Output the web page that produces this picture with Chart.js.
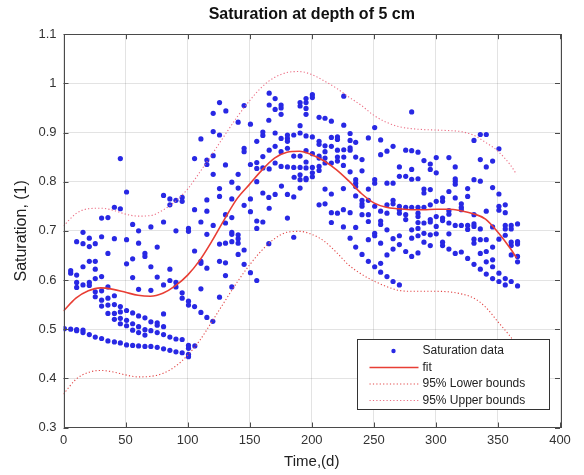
<!DOCTYPE html>
<html><head><meta charset="utf-8">
<script src="https://cdn.jsdelivr.net/npm/chart.js@4"></script>
<style>html,body{margin:0;padding:0;background:#fff}#wrap{width:584px;height:475px}</style>
</head><body><div id="wrap"><canvas id="c" width="584" height="475"></canvas></div>
<script>
const chartTitle = 'Saturation at depth of 5 cm';
const xTitle = 'Time,(d)';
const yTitle = 'Saturation, (1)';
const xTicks = [0, 50, 100, 150, 200, 250, 300, 350, 400];
const yTicks = [0.3, 0.4, 0.5, 0.6, 0.7, 0.8, 0.9, 1, 1.1];
const legendLabels = ['Saturation data', 'fit', '95% Lower bounds', '95% Upper bounds'];

// Measured saturation points [day, saturation]
const satPoints = [
 [45.8,0.847],[50.8,0.779],[41,0.748],[45.8,0.745],[30.7,0.726],[35.8,0.727],[80.6,0.772],[85.7,0.765],[85.7,0.753],
 [90.6,0.762],[95.6,0.768],[95.6,0.760],[55.7,0.713],[60.5,0.700],[70.4,0.708],[80.6,0.718],[90.6,0.700],[100.7,0.705],
 [100.7,0.699],[15.7,0.697],[10.6,0.678],[15.7,0.674],[20.8,0.685],[20.8,0.668],[25.6,0.674],[30.7,0.688],[41,0.684],
 [50.8,0.682],[60.5,0.675],[75.5,0.667],[35.8,0.654],[55.7,0.643],[65.6,0.654],[65.6,0.648],[50.8,0.633],[15.7,0.627],
 [20.8,0.638],[25.6,0.638],[25.6,0.622],[70.4,0.627],[5.8,0.619],[5.8,0.614],[10.6,0.610],[25.6,0.603],[30.7,0.607],
 [55.7,0.605],[85.7,0.622],[75.5,0.606],[85.7,0.599],[90.6,0.595],[10.6,0.595],[10.6,0.585],[15.7,0.590],[20.8,0.595],
 [20.8,0.589],[35.8,0.586],[60.5,0.581],[70.4,0.579],[80.6,0.590],[90.6,0.586],[95.6,0.574],[95.6,0.563],[100.7,0.557],
 [100.7,0.549],[25.6,0.576],[25.6,0.566],[30.7,0.578],[30.7,0.559],[35.8,0.563],[41,0.568],[41,0.550],[45.8,0.546],
 [30.7,0.547],[35.8,0.549],[35.8,0.532],[41,0.532],[45.8,0.535],[50.8,0.538],[55.7,0.533],[60.5,0.527],[65.6,0.523],
 [70.4,0.515],[75.5,0.513],[80.6,0.531],[41,0.520],[45.8,0.522],[50.8,0.518],[45.8,0.511],[50.8,0.507],[55.7,0.511],
 [60.5,0.505],[65.6,0.499],[70.4,0.497],[75.5,0.508],[80.6,0.505],[55.7,0.498],[60.5,0.493],[65.6,0.488],[75.5,0.493],
 [80.6,0.489],[85.7,0.484],[90.6,0.480],[95.6,0.479],[100.7,0.467],[100.7,0.461],[0.7,0.501],[5.8,0.500],[10.6,0.499],
 [10.6,0.497],[15.7,0.498],[15.7,0.493],[20.8,0.489],[25.6,0.484],[30.7,0.481],[35.8,0.476],[41,0.474],[45.8,0.472],
 [50.8,0.468],[55.7,0.467],[60.5,0.466],[65.6,0.465],[70.4,0.465],[75.5,0.463],[80.6,0.460],[85.7,0.457],[90.6,0.454],
 [95.6,0.452],[100.7,0.449],[100.7,0.444],[105.8,0.466],[105.6,0.546],[110.7,0.534],[115.5,0.524],[120.3,0.516],
 [165.7,0.980],[170.5,0.969],[165.7,0.956],[175.3,0.956],[175.3,0.950],[170.5,0.947],[175.3,0.937],[125.7,0.961],
 [120.6,0.939],[130.8,0.944],[145.5,0.955],[140.7,0.921],[150.6,0.917],[120.6,0.902],[125.7,0.895],[165.4,0.925],
 [160.6,0.901],[160.6,0.894],[170.5,0.899],[175.3,0.888],[180.4,0.895],[180.4,0.888],[180.4,0.882],[185.5,0.895],
 [110.7,0.887],[155.7,0.882],[145.5,0.868],[145.5,0.861],[150.6,0.835],[155.7,0.839],[160.6,0.851],[165.7,0.864],
 [170.5,0.872],[175.3,0.861],[180.4,0.868],[185.5,0.852],[155.7,0.827],[160.6,0.828],[165.7,0.826],[170.5,0.838],
 [175.3,0.831],[180.4,0.830],[185.5,0.829],[105.6,0.847],[115.5,0.844],[115.5,0.835],[120.6,0.853],[130.5,0.834],
 [140.7,0.815],[135.6,0.799],[120.6,0.815],[185.8,0.809],[155.7,0.800],[175.6,0.791],[160.6,0.777],[165.4,0.768],
 [170.5,0.774],[180.4,0.774],[185.5,0.769],[125.7,0.786],[125.7,0.770],[140.7,0.787],[135.6,0.765],[115.5,0.763],
 [150.6,0.765],[145.5,0.752],[165.7,0.746],[105.6,0.743],[115.5,0.740],[130.5,0.733],[135.6,0.727],[130.5,0.716],
 [150.6,0.739],[180.4,0.726],[110.7,0.718],[120.6,0.711],[155.7,0.720],[160.6,0.718],[155.7,0.705],[115.5,0.693],
 [135.6,0.697],[135.6,0.693],[140.7,0.692],[140.7,0.684],[140.7,0.675],[135.6,0.678],[185.5,0.687],[125.7,0.673],
 [130.5,0.675],[165.4,0.674],[105.6,0.659],[145.5,0.661],[140.7,0.652],[110.7,0.638],[110.7,0.634],[115.5,0.624],
 [125.7,0.638],[130.5,0.635],[145.5,0.632],[130.5,0.609],[150.6,0.615],[155.7,0.599],[135.6,0.586],[110.7,0.582],
 [125.7,0.565],[190.6,0.961],[190.6,0.954],[190.6,0.914],[190.6,0.899],[190.6,0.852],[190.6,0.829],[190.6,0.814],
 [190.6,0.804],[190.6,0.787],
 [200.5,0.977],[200.5,0.971],[195.4,0.969],[195.4,0.961],[195.4,0.949],[195.4,0.937],[225.8,0.974],[205.9,0.931],
 [210.7,0.929],[215.8,0.923],[225.8,0.915],[230.9,0.898],[230.9,0.884],[235.4,0.880],[225.8,0.865],[250.7,0.910],
 [245.6,0.889],[255.5,0.885],[195.4,0.893],[200.5,0.891],[205.9,0.882],[205.9,0.876],[210.7,0.873],[215.8,0.890],
 [220.7,0.891],[220.7,0.886],[230.9,0.869],[230.9,0.864],[215.8,0.872],[220.7,0.864],[195.4,0.863],[200.5,0.857],
 [205.9,0.852],[205.9,0.848],[210.7,0.861],[210.7,0.848],[220.7,0.850],[220.7,0.842],[225.8,0.850],[235.4,0.850],
 [215.8,0.838],[210.7,0.838],[240.5,0.845],[255.5,0.855],[260.6,0.862],[265.5,0.872],[275.7,0.864],[280.5,0.863],
 [285.6,0.860],[270.6,0.830],[280.5,0.825],[195.4,0.840],[195.4,0.828],[200.5,0.829],[205.9,0.831],[205.9,0.823],
 [200.5,0.818],[200.5,0.810],[195.4,0.807],[195.4,0.804],[225.5,0.833],[230.9,0.820],[240.5,0.822],[270.6,0.811],
 [275.7,0.811],[280.5,0.805],[285.6,0.806],[235.4,0.804],[235.4,0.797],[235.4,0.790],[225.5,0.786],[250.7,0.804],
 [250.7,0.797],[245.6,0.785],[260.6,0.797],[265.5,0.797],[210.7,0.785],[215.8,0.775],[235.4,0.771],[240.5,0.762],
 [240.5,0.755],[240.5,0.750],[245.6,0.762],[250.7,0.750],[260.6,0.753],[265.5,0.762],[265.5,0.755],[270.6,0.750],
 [270.6,0.743],[270.6,0.736],[275.7,0.748],[280.5,0.748],[285.6,0.748],[205.9,0.753],[210.7,0.755],[225.5,0.743],
 [220.7,0.736],[215.8,0.737],[215.8,0.717],[230.9,0.737],[240.5,0.733],[245.6,0.733],[245.6,0.719],[255.5,0.740],
 [260.6,0.736],[255.5,0.720],[255.5,0.713],[275.7,0.733],[275.7,0.723],[285.6,0.736],[285.6,0.729],[285.6,0.717],
 [225.5,0.708],[235.4,0.707],[250.7,0.695],[250.7,0.690],[260.6,0.702],[265.5,0.684],[270.6,0.690],[270.6,0.672],
 [280.5,0.702],[280.5,0.685],[285.6,0.705],[285.6,0.690],[230.9,0.685],[235.4,0.667],[245.6,0.682],[255.5,0.675],
 [260.6,0.651],[255.5,0.634],[240.5,0.652],[245.6,0.638],[250.7,0.627],[255.5,0.616],[265.5,0.663],[275.7,0.658],
 [280.5,0.648],[285.6,0.655],[260.6,0.607],[265.5,0.597],[270.6,0.590],[280.5,0.942],
 [335.8,0.896],[340.6,0.896],[330.7,0.884],[350.8,0.867],[290.4,0.843],[295.5,0.836],[300.3,0.849],[310.5,0.849],
 [295.5,0.825],[300.3,0.818],[315.6,0.830],[335.8,0.845],[340.6,0.830],[345.7,0.842],[315.6,0.806],[315.6,0.801],
 [315.6,0.795],[330.7,0.804],[335.8,0.801],[290.4,0.785],[290.4,0.777],[295.5,0.784],[310.5,0.780],[315.6,0.767],
 [325.6,0.786],[325.6,0.770],[345.7,0.788],[350.8,0.775],[290.4,0.748],[295.5,0.753],[300.3,0.760],[305.4,0.767],
 [305.4,0.760],[320.5,0.755],[320.5,0.748],[320.5,0.743],[310.5,0.741],[310.5,0.734],[330.7,0.733],[340.6,0.740],
 [350.8,0.750],[350.8,0.742],[355.9,0.753],[355.9,0.737],[290.4,0.716],[295.5,0.723],[295.5,0.718],[300.3,0.729],
 [300.3,0.709],[305.4,0.726],[305.4,0.721],[310.5,0.716],[315.6,0.711],[320.5,0.711],[325.6,0.711],[325.6,0.703],
 [330.7,0.714],[330.7,0.709],[335.8,0.704],[345.7,0.708],[355.9,0.711],[360.7,0.711],[365.8,0.714],[355.9,0.704],
 [360.7,0.704],[290.4,0.695],[295.5,0.692],[300.3,0.694],[310.5,0.694],[290.4,0.677],[295.5,0.670],[305.4,0.677],
 [305.4,0.670],[330.7,0.683],[330.7,0.675],[335.8,0.682],[340.6,0.682],[350.8,0.683],[355.9,0.691],[360.7,0.677],
 [365.8,0.678],[365.8,0.673],[360.7,0.670],[310.5,0.663],[315.6,0.654],[320.5,0.657],[325.6,0.644],[330.7,0.632],
 [335.8,0.654],[340.6,0.658],[335.8,0.622],[345.7,0.667],[345.7,0.641],[340.6,0.637],[345.7,0.627],[360.7,0.651],
 [365.8,0.648],[365.8,0.637],[340.6,0.612],[345.7,0.603],[350.8,0.614],[350.8,0.597],[355.9,0.603],[355.9,0.590],
 [360.7,0.597],[365.8,0.588]
];

const fitDays    = [0,10,20,30,40,50,60,70,80,90,100,110,120,130,140,150,160,170,180,190,200,210,220,230,240,250,260,270,280,290,300,310,320,330,340,350,360,365];
const fitValues  = [0.537,0.563,0.578,0.584,0.581,0.575,0.569,0.567,0.573,0.588,0.610,0.641,0.681,0.725,0.766,0.795,0.824,0.848,0.860,0.862,0.855,0.842,0.824,0.801,0.776,0.757,0.748,0.745,0.743,0.743,0.744,0.744,0.741,0.735,0.724,0.697,0.664,0.645];
const lowerBound = [0.368,0.398,0.412,0.416,0.413,0.407,0.403,0.404,0.410,0.424,0.447,0.478,0.517,0.557,0.596,0.631,0.661,0.684,0.697,0.699,0.693,0.679,0.656,0.630,0.612,0.598,0.587,0.579,0.577,0.577,0.577,0.576,0.572,0.564,0.545,0.515,0.485,0.468];
const upperBound = [0.710,0.735,0.745,0.746,0.742,0.734,0.730,0.731,0.742,0.760,0.785,0.820,0.857,0.895,0.932,0.965,0.993,1.012,1.022,1.024,1.018,1.005,0.990,0.972,0.955,0.935,0.921,0.912,0.908,0.906,0.905,0.904,0.902,0.895,0.880,0.862,0.834,0.815];

const toXY = (ys) => fitDays.map((d, i) => ({x: d, y: ys[i]}));
const FONT = "'Liberation Sans', Arial, Helvetica, sans-serif";
const dotColor = 'rgb(40,40,228)';
const fitColor = 'rgb(232,62,52)';
const lowColor = 'rgb(226,72,72)';
const upColor = 'rgb(236,110,132)';
const gridColor = 'rgba(0,0,0,0.11)';
const axisColor = '#4a4a4a';

const matlabBox = {
  id: 'matlabBox',
  afterDatasetsDraw(chart) {
    const {ctx, chartArea: ca, scales} = chart;
    ctx.save();
    ctx.strokeStyle = axisColor; ctx.lineWidth = 1;
    ctx.beginPath();
    xTicks.forEach(v => { const x = Math.round(scales.x.getPixelForValue(v)) + 0.5;
      ctx.moveTo(x, ca.bottom); ctx.lineTo(x, ca.bottom - 5);
      ctx.moveTo(x, ca.top); ctx.lineTo(x, ca.top + 5); });
    yTicks.forEach(v => { const y = Math.round(scales.y.getPixelForValue(v)) + 0.5;
      ctx.moveTo(ca.left, y); ctx.lineTo(ca.left + 5, y);
      ctx.moveTo(ca.right, y); ctx.lineTo(ca.right - 5, y); });
    ctx.stroke();
    ctx.strokeRect(Math.round(ca.left)+0.5, Math.round(ca.top)+0.5, Math.round(ca.right-ca.left), Math.round(ca.bottom-ca.top));

    // legend box inside the plot (lower right)
    const w = 192, h = 70;
    const x0 = Math.round(ca.right - 203) + 0.5, y0 = Math.round(ca.bottom - 88.5) + 0.5;
    ctx.fillStyle = '#fff';
    ctx.fillRect(x0, y0, w, h);
    ctx.strokeStyle = '#333'; ctx.lineWidth = 1;
    ctx.strokeRect(x0, y0, w, h);
    ctx.font = '12px ' + FONT; ctx.textBaseline = 'middle'; ctx.textAlign = 'left';
    const ds = chart.data.datasets;
    for (let i = 0; i < 4; i++) {
      const y = y0 + 11.5 + i * 16.5;
      const d = ds[i];
      if (i === 0) {
        ctx.fillStyle = dotColor; ctx.beginPath(); ctx.arc(x0 + 36, y, 2.2, 0, Math.PI * 2); ctx.fill();
      } else {
        ctx.strokeStyle = d.borderColor; ctx.lineWidth = d.borderWidth;
        ctx.setLineDash(d.borderDash || []);
        ctx.beginPath(); ctx.moveTo(x0 + 12, y); ctx.lineTo(x0 + 61, y); ctx.stroke();
        ctx.setLineDash([]);
      }
      ctx.fillStyle = '#222';
      ctx.fillText(legendLabels[i], x0 + 65, y);
    }
    ctx.restore();
  }
};

new Chart(document.getElementById('c'), {
  type: 'scatter',
  data: {
    datasets: [
      { label: legendLabels[0], data: satPoints.map(p => ({x: p[0], y: p[1]})),
        pointRadius: 2.6, pointBackgroundColor: dotColor, pointBorderWidth: 0, order: 4 },
      { type: 'line', label: legendLabels[1], data: toXY(fitValues), borderColor: fitColor, borderWidth: 1.6,
        pointRadius: 0, cubicInterpolationMode: 'monotone', fill: false, order: 1 },
      { type: 'line', label: legendLabels[2], data: toXY(lowerBound), borderColor: lowColor, borderWidth: 1.1,
        borderDash: [1.2, 2.2], pointRadius: 0, cubicInterpolationMode: 'monotone', fill: false, order: 2 },
      { type: 'line', label: legendLabels[3], data: toXY(upperBound), borderColor: upColor, borderWidth: 1.1,
        borderDash: [1.2, 2.2], pointRadius: 0, cubicInterpolationMode: 'monotone', fill: false, order: 3 }
    ]
  },
  options: {
    responsive: false, animation: false, devicePixelRatio: 1,
    layout: { padding: { left: 0, right: 24, top: 0, bottom: 0 } },
    plugins: {
      legend: { display: false },
      tooltip: { enabled: false },
      title: { display: true, text: chartTitle, fullSize: false, color: '#111',
        font: { family: FONT, size: 16, weight: 'bold' }, padding: { top: 5, bottom: 10 } }
    },
    scales: {
      x: {
        type: 'linear', min: 0, max: 400,
        afterBuildTicks: s => { s.ticks = xTicks.map(v => ({value: v})); },
        afterFit: s => { s.height = 47.5; },
        ticks: { color: '#333', font: { family: FONT, size: 13 }, padding: 5, maxRotation: 0, autoSkip: false,
          callback: v => String(v) },
        grid: { color: gridColor, drawTicks: false },
        border: { display: false },
        title: { display: true, text: xTitle, color: '#222', font: { family: FONT, size: 15 }, padding: { top: 0, bottom: 4 } }
      },
      y: {
        type: 'linear', min: 0.3, max: 1.1,
        afterBuildTicks: s => { s.ticks = yTicks.map(v => ({value: v})); },
        afterFit: s => { s.width = 63.5; },
        ticks: { color: '#333', font: { family: FONT, size: 13 }, padding: 7, autoSkip: false,
          callback: v => String(Math.round(v * 10) / 10) },
        grid: { color: gridColor, drawTicks: false },
        border: { display: false },
        title: { display: true, text: yTitle, color: '#222', font: { family: FONT, size: 16 }, padding: { top: 11.5, bottom: 0 } }
      }
    }
  },
  plugins: [matlabBox]
});
</script>
</body></html>
